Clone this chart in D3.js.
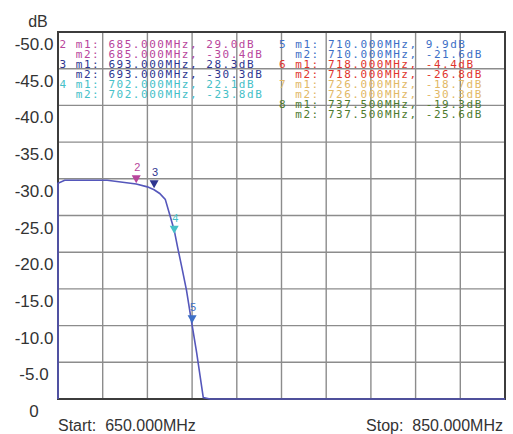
<!DOCTYPE html>
<html>
<head>
<meta charset="utf-8">
<script src="https://cdn.jsdelivr.net/npm/d3@7"></script>
<style>
  body { margin: 0; background: #fff; }
  text { font-family: "Liberation Sans", Arial, sans-serif; }
  .mono { font-family: "DejaVu Sans Mono", "Liberation Mono", monospace; white-space: pre; }
</style>
</head>
<body>
<svg id="chart"></svg>
<script>
// VNA trace: 650 - 850 MHz, y grid 0..50 dB shown with the device's "-" labels

const width = 513;
const height = 434;

// axis
const xGrid = [650, 670, 690, 710, 730, 750, 770, 790, 810, 830, 850];
const yTicks = [50, 45, 40, 35, 30, 25, 20, 15, 10, 5, 0];
const yTickLabels = ["-50.0", "-45.0", "-40.0", "-35.0", "-30.0", "-25.0", "-20.0", "-15.0", "-10.0", "-5.0", "0"];

// trace (MHz, dB)
const traceFreq = [650, 650, 653, 672, 685, 690, 693, 695.5, 698, 700, 702, 703.5, 705.5, 707.5, 709.5, 712, 715, 718, 726, 737.5, 850];
const traceDb   = [-5, 29.4, 29.8, 29.8, 29.3, 28.9, 28.5, 28.0, 27.2, 25.1, 23.0, 20.7, 17.8, 14.8, 11.0, 6.4, 0.2, -4.4, -18.7, -19.3, -22];

// markers
const markerIds  = [2, 3, 4, 5, 6, 7, 8];
const markerFreq = [685, 693, 702, 710, 718, 726, 737.5];
const markerM1   = [29.0, 28.3, 22.1, 9.9, -4.4, -18.7, -19.3];
const markerM2   = [-30.4, -30.3, -23.8, -21.6, -26.8, -30.3, -25.6];

const markerColor = {
  2: "#b8459c",
  3: "#2e3590",
  4: "#45c0c8",
  5: "#3d6fc6",
  6: "#e0342c",
  7: "#e2b866",
  8: "#4d7a2e"
};

const svg = d3.select("#chart")
  .attr("width", width)
  .attr("height", height);

const x = d3.scaleLinear().domain([650, 850]).range([58, 505]);
const y = d3.scaleLinear().domain([0, 50]).range([399, 32]).clamp(true);

// grid
const grid = svg.append("g")
  .attr("stroke", "#8c8c8c")
  .attr("stroke-width", 1.4);

grid.selectAll("line.v")
  .data(xGrid)
  .enter()
  .append("line")
  .attr("x1", d => x(d)).attr("x2", d => x(d))
  .attr("y1", y(50)).attr("y2", y(0));

grid.selectAll("line.h")
  .data(yTicks)
  .enter()
  .append("line")
  .attr("x1", x(650)).attr("x2", x(850))
  .attr("y1", d => y(d)).attr("y2", d => y(d));

// frame
svg.append("rect")
  .attr("x", x(650)).attr("y", y(50))
  .attr("width", x(850) - x(650))
  .attr("height", y(0) - y(50))
  .attr("fill", "none")
  .attr("stroke", "#3c3c3c")
  .attr("stroke-width", 2);

// y labels hang just under their grid line
svg.append("g")
  .selectAll("text")
  .data(yTicks)
  .enter()
  .append("text")
  .attr("x", 34)
  .attr("y", d => y(d) + 18)
  .attr("text-anchor", "middle")
  .attr("font-size", 17)
  .attr("fill", "#333")
  .text((d, i) => yTickLabels[i]);

svg.append("text")
  .attr("x", 38).attr("y", 27)
  .attr("text-anchor", "middle")
  .attr("font-size", 16)
  .attr("fill", "#333")
  .text("dB");

// trace
const traceData = traceFreq.map((f, i) => [f, traceDb[i]]);
svg.append("path")
  .datum(traceData)
  .attr("fill", "none")
  .attr("stroke", "#5557bb")
  .attr("stroke-width", 1.6)
  .attr("d", d3.line().x(d => x(d[0])).y(d => y(d[1])));

// marker triangles (only those inside the screen)
const markers = markerIds.map((id, i) => ({ id: id, f: markerFreq[i], m1: markerM1[i], m2: markerM2[i] }));
const visible = markers.filter(d => d.m1 >= 0 && d.m1 <= 50);

const mk = svg.append("g");
mk.selectAll("path")
  .data(visible)
  .enter()
  .append("path")
  .attr("d", d => {
    const px = x(d.f), py = y(d.m1) - 3;
    return "M" + px + "," + py + "L" + (px - 4.5) + "," + (py - 8) + "L" + (px + 4.5) + "," + (py - 8) + "Z";
  })
  .attr("fill", d => markerColor[d.id]);

mk.selectAll("text")
  .data(visible)
  .enter()
  .append("text")
  .attr("x", d => x(d.f) + 1)
  .attr("y", d => y(d.m1) - 15)
  .attr("text-anchor", "middle")
  .attr("font-size", 11)
  .attr("fill", d => markerColor[d.id])
  .text(d => d.id);

// marker readout
function readout(d, which) {
  const v = which === 1 ? d.m1 : d.m2;
  const head = which === 1 ? d.id + " m1: " : "  m2: ";
  return head + d.f.toFixed(3) + "MHz, " + v.toFixed(1) + "dB";
}

const rowStep = 10;
const lines = [];
markers.forEach((d, i) => {
  const right = d.id >= 5;
  const row = (right ? i - 3 : i) * 2;
  lines.push({ d: d, which: 1, x: right ? 279 : 59.5, row: row });
  lines.push({ d: d, which: 2, x: right ? 279 : 59.5, row: row + 1 });
});

svg.append("g")
  .selectAll("text")
  .data(lines)
  .enter()
  .append("text")
  .attr("class", "mono")
  .attr("x", l => l.x)
  .attr("y", l => 47.5 + l.row * rowStep)
  .attr("font-size", 11)
  .attr("letter-spacing", 1.53)
  .attr("fill", l => markerColor[l.d.id])
  .text(l => readout(l.d, l.which));

// start / stop
svg.append("text")
  .attr("class", "mono")
  .style("font-family", "'Liberation Sans', Arial, sans-serif")
  .attr("x", x(650)).attr("y", 431)
  .attr("font-size", 16)
  .attr("fill", "#333")
  .text("Start:  650.000MHz");

svg.append("text")
  .attr("class", "mono")
  .style("font-family", "'Liberation Sans', Arial, sans-serif")
  .attr("x", 503).attr("y", 431)
  .attr("text-anchor", "end")
  .attr("font-size", 16)
  .attr("fill", "#333")
  .text("Stop:  850.000MHz");
</script>
</body>
</html>
